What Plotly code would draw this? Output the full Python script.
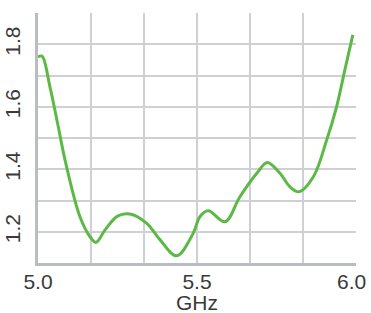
import plotly.graph_objects as go

freq_ghz = [5.000, 5.0126, 5.0377, 5.0638, 5.0849, 5.132, 5.1635, 5.182, 5.211,
            5.250, 5.289, 5.342, 5.384, 5.436, 5.488, 5.509, 5.5355, 5.588,
            5.635, 5.688, 5.721, 5.761, 5.792, 5.821, 5.866, 5.908, 5.939,
            5.965, 5.990]
vswr = [1.759, 1.762, 1.663, 1.536, 1.430, 1.248, 1.184, 1.166, 1.206,
        1.250, 1.257, 1.227, 1.174, 1.123, 1.195, 1.248, 1.267, 1.232,
        1.312, 1.387, 1.422, 1.387, 1.344, 1.328, 1.376, 1.494, 1.600,
        1.718, 1.830]

x_grid = [5.0, 5.0 + 1/6, 5.0 + 2/6, 5.5, 5.0 + 4/6, 5.0 + 5/6, 6.0]
x_text = ["5.0", "", "", "5.5", "", "", ""]
x_last_label = "6.0"
y_grid = [1.1, 1.2, 1.3, 1.4, 1.5, 1.6, 1.7, 1.8, 1.9]
y_text = ["", "1.2", "", "1.4", "", "1.6", "", "1.8", ""]
x_title = "GHz"

fig = go.Figure()
fig.add_trace(go.Scatter(
    x=freq_ghz, y=vswr, mode="lines",
    line=dict(color="#5cb946", width=3, shape="spline", smoothing=1.0),
    hoverinfo="skip", showlegend=False,
))

font = dict(family="Liberation Sans, Arial, sans-serif", size=21, color="#3a3a3a")
fig.update_layout(
    width=371, height=313,
    margin=dict(l=38, r=15, t=13, b=50, autoexpand=False),
    paper_bgcolor="white", plot_bgcolor="white",
    font=font,
    xaxis=dict(
        range=[5.0, 6.0], tickvals=x_grid, ticktext=x_text, tickfont=font,
        showgrid=True, gridcolor="#cfd0d3", gridwidth=1.5,
        showline=True, linecolor="#b9bcc1", linewidth=3,
        zeroline=False, ticks="", ticklabelstandoff=-2, automargin=False,
        ticklabeloverflow="allow",
    ),
    yaxis=dict(
        range=[1.1, 1.9], tickvals=y_grid, ticktext=y_text, tickfont=font,
        showgrid=True, gridcolor="#cfd0d3", gridwidth=1.5,
        showline=True, linecolor="#b9bcc1", linewidth=3,
        zeroline=False, ticks="", tickangle=-90, ticklabelstandoff=7,
        automargin=False, ticklabeloverflow="allow",
    ),
    annotations=[
        dict(text=x_title, xref="paper", yref="paper", x=0.5, y=-0.156,
             xanchor="center", yanchor="middle", showarrow=False, font=font),
        dict(text=x_last_label, xref="x", yref="paper", x=x_grid[-1], y=-0.074,
             xanchor="center", yanchor="middle", xshift=-5, showarrow=False,
             font=font, borderpad=0),
    ],
)
fig.write_html("out.html", config={"displayModeBar": False},
               post_script="document.body.style.margin='0';document.body.style.overflow='hidden';")
